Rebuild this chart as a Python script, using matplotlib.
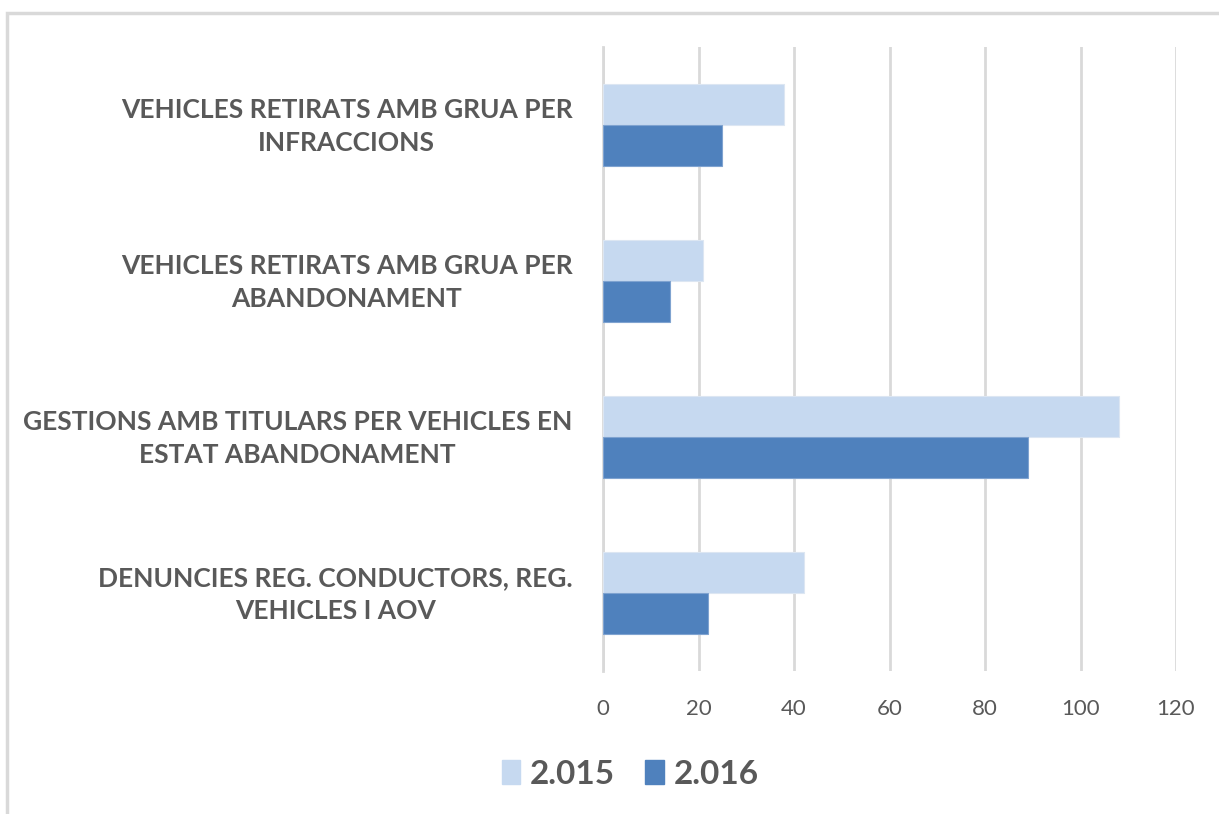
import matplotlib
matplotlib.use("Agg")
import matplotlib.pyplot as plt
import numpy as np
from matplotlib.patches import Rectangle, Patch
from matplotlib.transforms import ScaledTranslation

# categories (top to bottom as in the chart)
categories = [
    "VEHICLES RETIRATS AMB GRUA PER\nINFRACCIONS",
    "VEHICLES RETIRATS AMB GRUA PER\nABANDONAMENT",
    "GESTIONS AMB TITULARS PER VEHICLES EN\nESTAT ABANDONAMENT",
    "DENUNCIES REG. CONDUCTORS, REG.\nVEHICLES I AOV",
]
series_names = ["2.015", "2.016"]
values_2015 = [38, 21, 108, 42]
values_2016 = [25, 14, 89, 22]
x_ticks = [0, 20, 40, 60, 80, 100, 120]

c_light = "#C6D9F0"
c_dark = "#4F81BD"
c_grid = "#D9D9D9"
c_text = "#595959"

plt.rcParams['font.family'] = ['Lato', 'DejaVu Sans']

fig = plt.figure(figsize=(12.19, 8.14), dpi=100)
ax = fig.add_axes([603 / 1219, 1 - 671 / 814, 573 / 1219, 624 / 814])

y = np.arange(len(categories))
h = 0.26
ax.barh(y - h / 2, values_2015, height=h, color=c_light, edgecolor="#DCE6F2", linewidth=0.8, zorder=3)
ax.barh(y + h / 2, values_2016, height=h, color=c_dark, edgecolor="#7FA3D0", linewidth=0.8, zorder=3)

ax.set_xlim(0, 120)
ax.set_ylim(3.5, -0.5)
ax.set_xticks(x_ticks)
ax.set_xticklabels([str(t) for t in x_ticks], fontsize=16, color=c_text)
ax.set_yticks(y)
ax.set_yticklabels(categories, fontsize=19, fontweight="bold", color=c_text,
                   multialignment="center", linespacing=1.45)
ax.tick_params(axis="both", length=0)
ax.tick_params(axis="x", pad=20)
ax.tick_params(axis="y", pad=22)
# nudge category labels up a little so they sit centred on the bar pair
for lab in ax.get_yticklabels():
    lab.set_transform(lab.get_transform() + ScaledTranslation(0, 0.05, fig.dpi_scale_trans))

ax.grid(axis="x", color=c_grid, linewidth=2, zorder=0)
for s in ["top", "right", "bottom"]:
    ax.spines[s].set_visible(False)
ax.spines["left"].set_color(c_grid)
ax.spines["left"].set_linewidth(2)

handles = [Patch(facecolor=c_light, edgecolor=c_light), Patch(facecolor=c_dark, edgecolor=c_dark)]
leg = fig.legend(handles, series_names, loc="center", bbox_to_anchor=(0.517, 0.049), ncol=2,
                 frameon=False, handlelength=0.55, handleheight=0.7, handletextpad=0.3,
                 columnspacing=0.9, prop={"family": "Lato", "weight": "bold", "size": 24})
for t in leg.get_texts():
    t.set_color(c_text)

# outer chart border (only top and left visible inside the image)
fig.patches.append(Rectangle((7 / 1219, -0.1), 1.2, 1 - 13 / 814 + 0.1, transform=fig.transFigure,
                             fill=False, edgecolor=c_grid, linewidth=2.5))

fig.savefig("out.png", dpi=100)
